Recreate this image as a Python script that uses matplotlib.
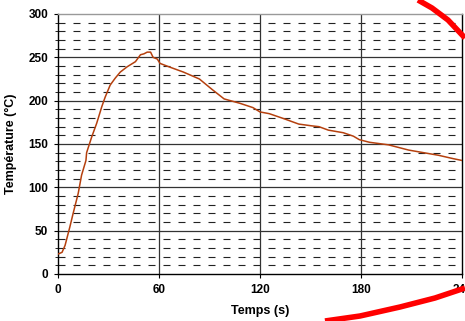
import matplotlib
matplotlib.use("Agg")
import matplotlib.pyplot as plt
from matplotlib.lines import Line2D
import numpy as np

plt.rcParams['font.family'] = ['Liberation Sans', 'DejaVu Sans']

time_s = [0, 2.4, 4.2, 7, 9, 12, 14, 16.6, 17, 20, 23, 26, 28, 31, 34, 37, 41, 46, 49, 51,
          53, 55, 56.5, 59, 60.6, 66, 74.5, 84, 91.5, 98.7, 108, 115.8, 120, 125.5, 134.5,
          143, 150.5, 155, 160.6, 169.5, 175.5, 179, 185, 196.4, 208.3, 226, 235, 240]
temp_c = [23, 25, 33, 54, 70, 93, 114, 131, 140, 158, 174, 193, 204, 218, 226, 233, 239, 245, 253, 254,
          256, 256, 250, 248, 243, 239, 233, 225, 213, 202, 197, 192, 187, 185, 179,
          173, 171, 170, 166, 163, 159, 155, 152, 149, 143, 137, 133, 131]

x_ticks = [0, 60, 120, 180, 240]
y_ticks = [0, 50, 100, 150, 200, 250, 300]
y_minor = [v for v in range(10, 300, 10) if v % 50 != 0]

W, H = 465, 321
fig = plt.figure(figsize=(W / 100, H / 100), dpi=100)
ax = fig.add_axes([58 / W, 1 - 274 / H, (462 - 58) / W, (274 - 14) / H])

ax.set_xlim(0, 240)
ax.set_ylim(0, 300)

# minor dashed horizontal grid
for yv in y_minor:
    ax.axhline(yv, color="#222222", lw=0.8, linestyle=(0, (6.3, 7.2)), zorder=1)
for yv in y_ticks[1:-1]:
    ax.axhline(yv, color="#333333", lw=0.9, zorder=1)
for xv in x_ticks[1:-1]:
    ax.axvline(xv, color="#333333", lw=0.9, zorder=1)

ax.plot(time_s, temp_c, color="#b5400e", lw=1.1, zorder=3)

ax.set_xticks(x_ticks)
ax.set_yticks(y_ticks)
ax.set_yticks(y_minor, minor=True)
ax.set_xticklabels([str(v) for v in x_ticks], fontsize=8.5, fontweight="bold")
ax.set_yticklabels([str(v) for v in y_ticks], fontsize=8.5, fontweight="bold")
ax.tick_params(axis="both", which="major", direction="out", length=3, width=0.8, pad=4)
ax.tick_params(axis="y", which="minor", direction="out", length=2, width=0.6)
for s in ax.spines.values():
    s.set_color("black")
    s.set_linewidth(1.0)
ax.spines["top"].set_color("#999999")

ax.set_xlabel("Temps (s)", fontsize=9, fontweight="bold", labelpad=7)
ax.set_ylabel("Température (°C)", fontsize=9, fontweight="bold", labelpad=8)

# red decorative swooshes
top = np.array([[418, 0], [432, 8], [448, 20], [465, 38]], float)
bot = np.array([[325, 321], [360, 316], [400, 307], [435, 298], [465, 288]], float)
for pts in (top, bot):
    fig.add_artist(Line2D(pts[:, 0] / W, 1 - pts[:, 1] / H, transform=fig.transFigure,
                          color="#ff0000", lw=4, solid_capstyle="butt"))

fig.savefig("out.png", dpi=100)
